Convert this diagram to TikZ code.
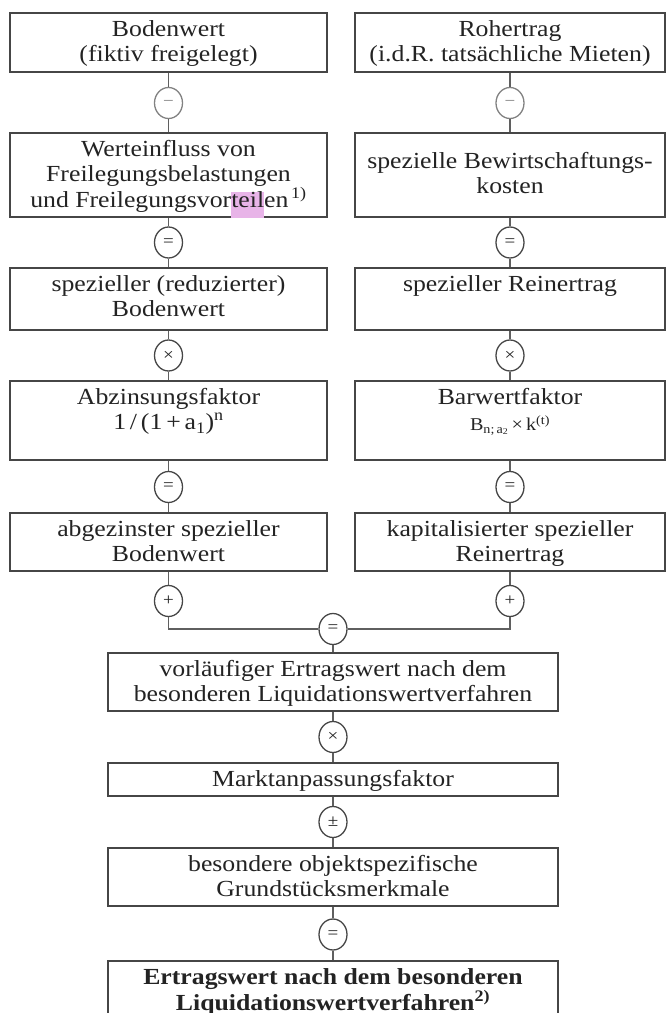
\documentclass[tikz,border=0pt]{standalone}
\usepackage{fontspec}
\setmainfont{Liberation Serif}[FakeStretch=1.12]
\usetikzlibrary{shapes.geometric}
\definecolor{boxc}{RGB}{70,70,70}
\definecolor{linec}{RGB}{95,95,95}
\definecolor{lightc}{RGB}{130,130,130}
\definecolor{txtc}{RGB}{35,35,35}
\definecolor{hl}{RGB}{232,180,232}
\newcommand\mfs{\fontsize{23}{25}\selectfont}
\newcommand\tst{\rule{0pt}{24pt}}
\newcommand\hlteil{{\setlength{\fboxsep}{0pt}\colorbox{hl}{\rule[-10pt]{0pt}{18pt}teil}}}
\begin{document}
\begin{tikzpicture}[x=1pt,y=-1pt,
  box/.style={draw=boxc, line width=1.4pt, inner sep=0pt, fill=white},
  txt/.style={anchor=north, inner sep=0pt, align=center, text=txtc, font=\mfs},
  op/.style={ellipse, draw=boxc, line width=1.3pt, minimum width=28pt, minimum height=31pt, inner sep=0pt,
             font=\fontsize{17}{17}\selectfont, text=txtc, fill=white},
  oplight/.style={op, draw=lightc, text=lightc},
  conn/.style={draw=linec, line width=1.2pt}]
\useasboundingbox (0,0) rectangle (667,1013);

% left column boxes
\node[box, minimum width=317pt, minimum height=59pt] (b1L) at (168.5,42.5) {};
\node[box, minimum width=317pt, minimum height=84pt] (b2L) at (168.5,175) {};
\node[box, minimum width=317pt, minimum height=62pt] (b3L) at (168.5,299) {};
\node[box, minimum width=317pt, minimum height=79pt] (b4L) at (168.5,420.5) {};
\node[box, minimum width=317pt, minimum height=58pt] (b5L) at (168.5,542) {};
% right column boxes
\node[box, minimum width=310pt, minimum height=59pt] (b1R) at (510,42.5) {};
\node[box, minimum width=310pt, minimum height=84pt] (b2R) at (510,175) {};
\node[box, minimum width=310pt, minimum height=62pt] (b3R) at (510,299) {};
\node[box, minimum width=310pt, minimum height=79pt] (b4R) at (510,420.5) {};
\node[box, minimum width=310pt, minimum height=58pt] (b5R) at (510,542) {};
% centre boxes
\node[box, minimum width=450pt, minimum height=58pt] (b6) at (333,682) {};
\node[box, minimum width=450pt, minimum height=33pt] (b7) at (333,779.5) {};
\node[box, minimum width=450pt, minimum height=58pt] (b8) at (333,877) {};
\node[box, minimum width=450pt, minimum height=99pt] (b9) at (333,1010.5) {};

% texts
\node[txt] (t1L) at (b1L.north) {\tst Bodenwert\\(fiktiv freigelegt)};
\node[txt] (t1R) at (b1R.north) {\tst Rohertrag\\(i.d.R. tatsächliche Mieten)};
\node[txt] (t2L) at (b2L.north) {\tst Werteinfluss von\\Freilegungsbelastungen\\und Freilegungsvor\hlteil en\textsuperscript{\,1)}};
\node[txt] (t2R) at (b2R.north) {\rule{0pt}{36pt}spezielle Bewirtschaftungs-\\kosten};
\node[txt] (t3L) at (b3L.north) {\tst spezieller (reduzierter)\\Bodenwert};
\node[txt] (t3R) at (b3R.north) {\tst spezieller Reinertrag};
\node[txt] (t4L) at (b4L.north) {\tst Abzinsungsfaktor\\1\,/\,(1\,+\,a\textsubscript{1})\textsuperscript{n}};
\node[txt] (t4R) at (b4R.north) {\tst Barwertfaktor\\[1pt]{\fontsize{18}{20}\selectfont B\textsubscript{n;\,a\textsubscript{2}}\,\texttimes\,k\textsuperscript{(t)}}};
\node[txt] (t5L) at (b5L.north) {\tst abgezinster spezieller\\Bodenwert};
\node[txt] (t5R) at (b5R.north) {\tst kapitalisierter spezieller\\Reinertrag};
\node[txt] (t6) at (b6.north) {\tst vorläufiger Ertragswert nach dem\\besonderen Liquidationswertverfahren};
\node[txt] (t7) at (b7.north) {\tst Marktanpassungsfaktor};
\node[txt] (t8) at (b8.north) {\tst besondere objektspezifische\\Grundstücksmerkmale};
\node[txt, font=\mfs\bfseries] (t9) at (b9.north) {\tst Ertragswert nach dem besonderen\\Liquidationswertverfahren\textsuperscript{2)}};

% operator circles
\node[oplight] (c1L) at (168.5,103) {−};
\node[oplight] (c1R) at (510,103) {−};
\node[op] (c2L) at (168.5,242.5) {=};
\node[op] (c2R) at (510,242.5) {=};
\node[op] (c3L) at (168.5,355.5) {×};
\node[op] (c3R) at (510,355.5) {×};
\node[op] (c4L) at (168.5,487) {=};
\node[op] (c4R) at (510,487) {=};
\node[op] (c5L) at (168.5,601) {+};
\node[op] (c5R) at (510,601) {+};
\node[op] (c5M) at (333,629) {=};
\node[op] (c6) at (333,737) {×};
\node[op] (c7) at (333,822) {±};
\node[op] (c8) at (333,934.5) {=};

% connectors
\foreach \s in {L,R}{
  \draw[conn] (b1\s) -- (c1\s);
  \draw[conn] (c1\s) -- (b2\s);
  \draw[conn] (b2\s) -- (c2\s);
  \draw[conn] (c2\s) -- (b3\s);
  \draw[conn] (b3\s) -- (c3\s);
  \draw[conn] (c3\s) -- (b4\s);
  \draw[conn] (b4\s) -- (c4\s);
  \draw[conn] (c4\s) -- (b5\s);
  \draw[conn] (b5\s) -- (c5\s);
  \draw[conn] (c5\s) |- (c5M);
}
\draw[conn] (c5M) -- (b6);
\draw[conn] (b6) -- (c6);
\draw[conn] (c6) -- (b7);
\draw[conn] (b7) -- (c7);
\draw[conn] (c7) -- (b8);
\draw[conn] (b8) -- (c8);
\draw[conn] (c8) -- (b9);
\end{tikzpicture}
\end{document}
